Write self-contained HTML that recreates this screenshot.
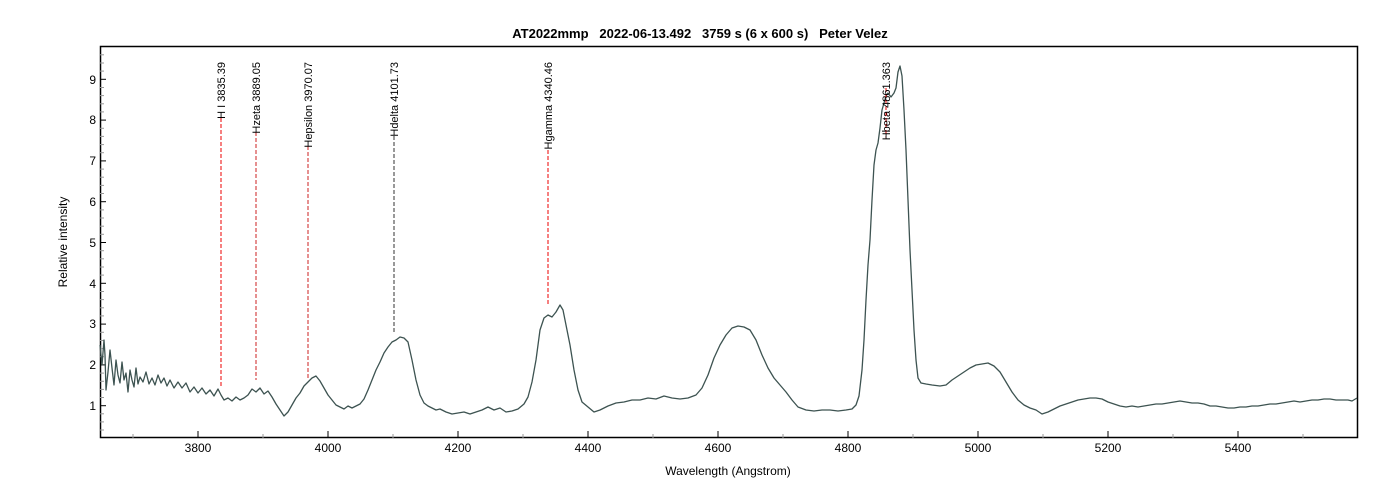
<!DOCTYPE html>
<html><head><meta charset="utf-8"><style>
body{margin:0;background:#fff;}
svg{display:block;font-family:"Liberation Sans",Arial,sans-serif;}
</style></head><body>
<svg width="1400" height="500" viewBox="0 0 1400 500" xmlns="http://www.w3.org/2000/svg">
<rect width="1400" height="500" fill="#fff"/>
<text x="700" y="38" text-anchor="middle" font-size="13" font-weight="bold" xml:space="preserve">AT2022mmp   2022-06-13.492   3759 s (6 x 600 s)   Peter Velez</text>
<rect x="100.5" y="46.5" width="1257" height="391" fill="none" stroke="#000" stroke-width="1.5"/>
<g stroke="#000" stroke-width="1">
<line x1="100" y1="405.7" x2="106" y2="405.7"/><line x1="100" y1="364.9" x2="106" y2="364.9"/>
<line x1="100" y1="324.1" x2="106" y2="324.1"/><line x1="100" y1="283.3" x2="106" y2="283.3"/>
<line x1="100" y1="242.5" x2="106" y2="242.5"/><line x1="100" y1="201.7" x2="106" y2="201.7"/>
<line x1="100" y1="160.9" x2="106" y2="160.9"/><line x1="100" y1="120.1" x2="106" y2="120.1"/>
<line x1="100" y1="79.3" x2="106" y2="79.3"/>
<line x1="198" y1="438" x2="198" y2="431"/><line x1="328" y1="438" x2="328" y2="431"/>
<line x1="458" y1="438" x2="458" y2="431"/><line x1="588" y1="438" x2="588" y2="431"/>
<line x1="718" y1="438" x2="718" y2="431"/><line x1="848" y1="438" x2="848" y2="431"/>
<line x1="978" y1="438" x2="978" y2="431"/><line x1="1108" y1="438" x2="1108" y2="431"/>
<line x1="1238" y1="438" x2="1238" y2="431"/>
</g>
<g stroke="#999" stroke-width="1">
<line x1="100" y1="430" x2="104" y2="430"/><line x1="100" y1="421.9" x2="104" y2="421.9"/><line x1="100" y1="413.8" x2="104" y2="413.8"/>
<line x1="100" y1="397.5" x2="104" y2="397.5"/><line x1="100" y1="389.4" x2="104" y2="389.4"/><line x1="100" y1="381.3" x2="104" y2="381.3"/><line x1="100" y1="373.1" x2="104" y2="373.1"/>
<line x1="100" y1="356.7" x2="104" y2="356.7"/><line x1="100" y1="348.6" x2="104" y2="348.6"/><line x1="100" y1="340.5" x2="104" y2="340.5"/><line x1="100" y1="332.3" x2="104" y2="332.3"/>
<line x1="100" y1="315.9" x2="104" y2="315.9"/><line x1="100" y1="307.8" x2="104" y2="307.8"/><line x1="100" y1="299.6" x2="104" y2="299.6"/><line x1="100" y1="291.5" x2="104" y2="291.5"/>
<line x1="100" y1="275.1" x2="104" y2="275.1"/><line x1="100" y1="267" x2="104" y2="267"/><line x1="100" y1="258.8" x2="104" y2="258.8"/><line x1="100" y1="250.7" x2="104" y2="250.7"/>
<line x1="100" y1="234.3" x2="104" y2="234.3"/><line x1="100" y1="226.2" x2="104" y2="226.2"/><line x1="100" y1="218" x2="104" y2="218"/><line x1="100" y1="209.9" x2="104" y2="209.9"/>
<line x1="100" y1="193.5" x2="104" y2="193.5"/><line x1="100" y1="185.4" x2="104" y2="185.4"/><line x1="100" y1="177.2" x2="104" y2="177.2"/><line x1="100" y1="169.1" x2="104" y2="169.1"/>
<line x1="100" y1="152.7" x2="104" y2="152.7"/><line x1="100" y1="144.6" x2="104" y2="144.6"/><line x1="100" y1="136.4" x2="104" y2="136.4"/><line x1="100" y1="128.3" x2="104" y2="128.3"/>
<line x1="100" y1="111.9" x2="104" y2="111.9"/><line x1="100" y1="103.8" x2="104" y2="103.8"/><line x1="100" y1="95.6" x2="104" y2="95.6"/><line x1="100" y1="87.5" x2="104" y2="87.5"/>
<line x1="100" y1="71.1" x2="104" y2="71.1"/><line x1="100" y1="63" x2="104" y2="63"/><line x1="100" y1="54.8" x2="104" y2="54.8"/>
<line x1="133" y1="438" x2="133" y2="434"/><line x1="263" y1="438" x2="263" y2="434"/><line x1="393" y1="438" x2="393" y2="434"/>
<line x1="523" y1="438" x2="523" y2="434"/><line x1="653" y1="438" x2="653" y2="434"/><line x1="783" y1="438" x2="783" y2="434"/>
<line x1="913" y1="438" x2="913" y2="434"/><line x1="1043" y1="438" x2="1043" y2="434"/><line x1="1173" y1="438" x2="1173" y2="434"/>
<line x1="1303" y1="438" x2="1303" y2="434"/>
</g>
<g font-size="12" fill="#000" text-anchor="end">
<text x="96" y="410">1</text><text x="96" y="369">2</text><text x="96" y="328">3</text><text x="96" y="288">4</text>
<text x="96" y="247">5</text><text x="96" y="206">6</text><text x="96" y="165">7</text><text x="96" y="124">8</text><text x="96" y="84">9</text>
</g>
<g font-size="12" fill="#000" text-anchor="middle">
<text x="198" y="452">3800</text><text x="328" y="452">4000</text><text x="458" y="452">4200</text><text x="588" y="452">4400</text>
<text x="718" y="452">4600</text><text x="848" y="452">4800</text><text x="978" y="452">5000</text><text x="1108" y="452">5200</text><text x="1238" y="452">5400</text>
</g>
<text x="728" y="475" font-size="12" text-anchor="middle">Wavelength (Angstrom)</text>
<text transform="translate(67,242) rotate(-90)" font-size="12" text-anchor="middle">Relative intensity</text>

<polyline fill="none" stroke="#3d5351" stroke-width="1.3" stroke-linejoin="round" points="
100,345 102,365 104,340 105,355 106,390 108,372 110,350 112,368 114,385 116,360 118,375 120,383 122,362 124,380 126,373 128,392 130,370 132,380 134,387 136,368 138,384 140,377 143,382 146,372 149,384 152,378 155,385 158,375 161,383 164,378 167,386 170,380 174,388 178,382 182,388 186,383 190,392 194,387 198,393 202,388 206,394 210,390 214,396 218,389 221,395 224,400 228,398 232,401 236,397 240,400 244,398 248,395 252,389 256,392 260,388 264,394 268,391 272,397 276,404 280,410 284,416 288,412 292,405 296,398 300,393 304,386 308,382 312,378 316,376 320,381 324,388 328,395 332,400 336,405 340,407 344,409 348,406 352,408 356,406 360,404 364,399 368,390 372,380 376,370 380,362 384,353 388,347 392,342 396,340 400,337 404,338 408,342 412,360 416,380 420,395 424,403 428,406 432,408 436,410 440,409 446,412 452,414 458,413 464,412 470,414 476,412 482,410 488,407 494,410 500,408 506,412 512,411 518,409 524,404 528,397 532,382 536,360 540,330 544,318 548,315 552,317 556,312 560,305 563,310 566,325 570,345 574,370 578,390 582,402 588,407 594,412 600,410 608,406 616,403 624,402 632,400 640,400 648,398 656,399 664,396 672,398 680,399 688,398 696,395 702,388 708,375 714,358 720,345 726,335 732,328 738,326 744,327 750,330 756,340 762,355 768,368 774,378 780,385 786,392 792,400 798,407 806,410 814,411 822,410 830,410 838,411 846,410 852,409 856,405 859,396 862,370 864,340 866,300 868,265 870,240 872,200 874,165 876,150 878,143 880,128 882,110 884,103 886,96 888,93 891,97 894,93 896,88 898,72 900,66 902,76 904,110 906,150 908,200 910,250 912,290 914,330 916,360 918,378 921,383 926,384 932,385 940,386 946,385 952,380 958,376 964,372 970,368 976,365 982,364 988,363 994,366 1000,372 1006,382 1012,392 1018,400 1024,405 1030,408 1036,410 1042,414 1048,412 1054,409 1060,406 1066,404 1072,402 1078,400 1084,399 1090,398 1096,398 1102,399 1108,402 1114,404 1120,406 1126,407 1132,406 1138,407 1144,406 1150,405 1156,404 1162,404 1168,403 1174,402 1180,401 1186,402 1192,403 1198,403 1204,404 1210,406 1216,406 1222,407 1228,408 1234,408 1240,407 1246,407 1252,406 1258,406 1264,405 1270,404 1276,404 1282,403 1288,402 1294,401 1300,402 1306,401 1312,400 1318,400 1324,399 1330,399 1336,400 1342,400 1348,400 1352,401 1357,398"/>

<g stroke-width="1" stroke-dasharray="4,2">
<line x1="221" y1="118" x2="221" y2="386" stroke="#e00"/>
<line x1="256" y1="132" x2="256" y2="380" stroke="#c22"/>
<line x1="308" y1="146" x2="308" y2="378" stroke="#c22"/>
<line x1="394" y1="136" x2="394" y2="332" stroke="#333"/>
<line x1="548" y1="150" x2="548" y2="305" stroke="#e00"/>
<line x1="886" y1="88" x2="886" y2="138" stroke="#e00"/>
</g>
<g font-size="11" fill="#000" text-anchor="end">
<text transform="translate(225,62) rotate(-90)">H I 3835.39</text>
<text transform="translate(260,62) rotate(-90)">Hzeta 3889.05</text>
<text transform="translate(312,62) rotate(-90)">Hepsilon 3970.07</text>
<text transform="translate(398,62) rotate(-90)">Hdelta 4101.73</text>
<text transform="translate(552,62) rotate(-90)">Hgamma 4340.46</text>
<text transform="translate(890,62) rotate(-90)">Hbeta 4861.363</text>
</g>
</svg>
</body></html>
